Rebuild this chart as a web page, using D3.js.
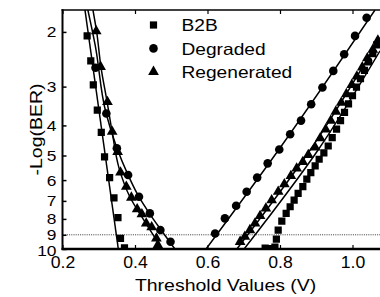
<!DOCTYPE html>
<html><head><meta charset="utf-8">
<script src="https://cdn.jsdelivr.net/npm/d3@7"></script>
<style>
html,body{margin:0;padding:0;background:#fff;}
svg{display:block;font-family:"Liberation Sans",Arial,sans-serif;}
</style></head>
<body>
<svg id="chart" width="380" height="297"></svg>
<script>
// ---- data (threshold V, -log(BER)) ----
const xTicks = [0.2, 0.4, 0.6, 0.8, 1.0];
const yTicks = [2, 3, 4, 5, 6, 7, 8, 9, 10];
const seriesNames = ["B2B", "Degraded", "Regenerated"];

const b2bX = [0.268,0.278,0.285,0.296,0.307,0.316,0.330,0.342,0.353,0.360,0.371,
  0.759,0.772,0.786,0.790,0.795,0.805,0.817,0.828,0.839,0.850,0.863,0.874,0.885,0.897,0.908,0.921,
  0.933,0.944,0.956,0.967,0.978,0.989,1.000,1.011,1.022,1.033,1.044,1.056,1.067];
const b2bY = [2.06,2.48,2.96,3.57,4.21,5.05,5.89,6.84,7.93,9.24,9.91,
  9.93,9.97,9.86,9.29,8.69,8.13,7.68,7.31,6.96,6.62,6.30,5.96,5.68,5.40,5.14,4.90,
  4.66,4.38,4.11,3.86,3.63,3.41,3.21,3.01,2.83,2.66,2.50,2.35,2.20];

const degX = [0.291,0.321,0.350,0.381,0.411,0.441,0.470,0.498,
  0.621,0.648,0.679,0.708,0.737,0.766,0.798,0.828,0.858,0.886,0.917,0.947,0.977,1.007,1.039];
const degY = [2.61,3.66,4.74,5.78,6.79,7.68,8.69,9.48,
  8.91,7.97,7.26,6.54,5.89,5.30,4.78,4.27,3.86,3.42,3.02,2.67,2.36,2.06,1.80];

const regX = [0.293,0.305,0.324,0.337,0.352,0.360,0.376,0.390,0.406,0.419,0.431,0.446,0.459,0.463,
  0.690,0.703,0.717,0.731,0.745,0.761,0.777,0.795,0.812,0.830,0.846,0.863,0.878,0.897,
  0.911,0.926,0.940,0.954,0.969,0.983,0.998,1.012,1.027,1.041,1.056,1.070];
const regY = [1.99,2.59,3.36,4.19,4.87,5.67,6.30,6.83,7.44,7.72,8.27,8.50,9.24,9.71,
  9.48,9.13,8.69,8.27,7.83,7.40,6.96,6.54,6.18,5.82,5.50,5.24,4.98,4.71,
  4.40,4.12,3.86,3.61,3.38,3.17,2.96,2.78,2.60,2.43,2.28,2.13];

// fitted curves
const fitB2bLeftX = [0.262, 0.354];
const fitB2bLeftY = [1.70, 10];
const fitDegLeftX = [0.270,0.290,0.320,0.350,0.381,0.411,0.441,0.472,0.510];
const fitDegLeftY = [1.70,2.20,3.65,4.73,5.78,6.80,7.72,8.69,10];
const fitRegLeftX = [0.284,0.294,0.306,0.323,0.337,0.356,0.386,0.428,0.475];
const fitRegLeftY = [1.70,1.99,2.59,3.36,4.20,5.49,6.80,8.19,10];
const fitDegRightX = [0.596, 0.797, 1.062];
const fitDegRightY = [10, 4.78, 1.70];
const fitRegRightX = [0.681, 0.883, 1.076];
const fitRegRightY = [10, 4.80, 2.09];
const fitB2bRightX = [0.701, 0.905, 1.076];
const fitB2bRightY = [10, 4.80, 2.30];
const refLineY = 9;

// ---- layout ----
const svg = d3.select("#chart");
const L = 62.5, T = 10, B = 249, R = 388.75;
const x = d3.scaleLinear().domain([0.2, 1.1]).range([L, R]);
const y = d3.scaleLog().domain([1.7, 10]).range([T, B]);

function widen(sel, sx) {
  sel.each(function () {
    const w = this.getComputedTextLength();
    this.setAttribute("textLength", (w * sx).toFixed(2));
    this.setAttribute("lengthAdjust", "spacingAndGlyphs");
  });
}

svg.append("defs").append("clipPath").attr("id","clip")
  .append("rect").attr("x", L).attr("y", T).attr("width", R - L).attr("height", B - T);

const plot = svg.append("g").attr("clip-path","url(#clip)");

// reference dotted line
plot.append("line").attr("x1", L).attr("x2", R).attr("y1", y(refLineY)).attr("y2", y(refLineY))
  .attr("stroke","#222").attr("stroke-width",0.9).attr("stroke-dasharray","1,1.2");

const line = d3.line().x(d => x(d[0])).y(d => y(d[1])).curve(d3.curveMonotoneY);
const fits = [
  [fitB2bLeftX, fitB2bLeftY],[fitDegLeftX, fitDegLeftY],[fitRegLeftX, fitRegLeftY],
  [fitDegRightX, fitDegRightY],[fitRegRightX, fitRegRightY],[fitB2bRightX, fitB2bRightY]
];
fits.forEach(([xs, ys]) => {
  plot.append("path").datum(xs.map((v,i)=>[v, ys[i]]))
    .attr("d", line).attr("fill","none").attr("stroke","#000").attr("stroke-width",1.5);
});

const shapes = [d3.symbolSquare, d3.symbolCircle, d3.symbolTriangle];
const sizes = [52, 58, 50];
const sets = [[b2bX,b2bY],[degX,degY],[regX,regY]];
sets.forEach(([xs, ys], k) => {
  plot.selectAll(null).data(xs.map((v,i)=>[v, ys[i]])).enter().append("path")
    .attr("transform", d => `translate(${x(d[0])},${y(d[1])})`)
    .attr("d", d3.symbol().type(shapes[k]).size(sizes[k]))
    .attr("fill","#000");
});

// axes frame
const xAxisB = d3.axisBottom(x).tickValues(xTicks).tickSize(-4).tickPadding(8).tickFormat(d3.format(".1f"));
const gx = svg.append("g").attr("transform",`translate(0,${B})`).call(xAxisB);
gx.select(".domain").remove();
gx.selectAll(".tick line").attr("stroke","#000").attr("stroke-width",1.2);
gx.selectAll("text").attr("font-size","16px").attr("fill","#000");
widen(gx.selectAll("text"), 1.1);

const xAxisT = d3.axisTop(x).tickValues(xTicks).tickSize(-4).tickFormat("");
const gxt = svg.append("g").attr("transform",`translate(0,${T})`).call(xAxisT);
gxt.select(".domain").remove();
gxt.selectAll(".tick line").attr("stroke","#000").attr("stroke-width",1.2);

const yAxis = d3.axisLeft(y).tickValues(yTicks).tickSize(-4).tickPadding(6).tickFormat(d3.format("d"));
const gy = svg.append("g").attr("transform",`translate(${L},0)`).call(yAxis);
gy.select(".domain").remove();
gy.selectAll(".tick line").attr("stroke","#000").attr("stroke-width",1.5);
gy.selectAll("text").attr("font-size","15.5px").attr("fill","#000");
gy.selectAll(".tick").filter(d => d === 10).select("text").attr("dy","0.42em");
widen(gy.selectAll("text"), 1.12);

svg.append("line").attr("x1",L-1).attr("x2",R).attr("y1",T).attr("y2",T).attr("stroke","#000").attr("stroke-width",1.6);
svg.append("line").attr("x1",L).attr("x2",L).attr("y1",T-0.8).attr("y2",B+1).attr("stroke","#000").attr("stroke-width",2);
svg.append("line").attr("x1",L-1).attr("x2",R).attr("y1",B).attr("y2",B).attr("stroke","#000").attr("stroke-width",2.6);

// axis titles
const xt = svg.append("text").attr("x", (L+R)/2).attr("y", 291).attr("text-anchor","middle")
  .attr("font-size","16.5px").text("Threshold Values (V)");
widen(xt, 1.18);
const yt = svg.append("text").attr("transform",`translate(42,${(T+B)/2}) rotate(-90)`).attr("text-anchor","middle")
  .attr("font-size","16.5px").text("-Log(BER)");
widen(yt, 1.18);

// legend
const leg = svg.append("g");
seriesNames.forEach((name, k) => {
  const cy = 25 + k*23.4;
  leg.append("path").attr("transform",`translate(153.5,${cy})`)
    .attr("d", d3.symbol().type(shapes[k]).size(sizes[k])).attr("fill","#000");
  const t = leg.append("text").attr("x",181.5).attr("y",cy+6.3).attr("font-size","16.5px").text(name);
  widen(t, 1.16);
});
</script>
</body></html>
